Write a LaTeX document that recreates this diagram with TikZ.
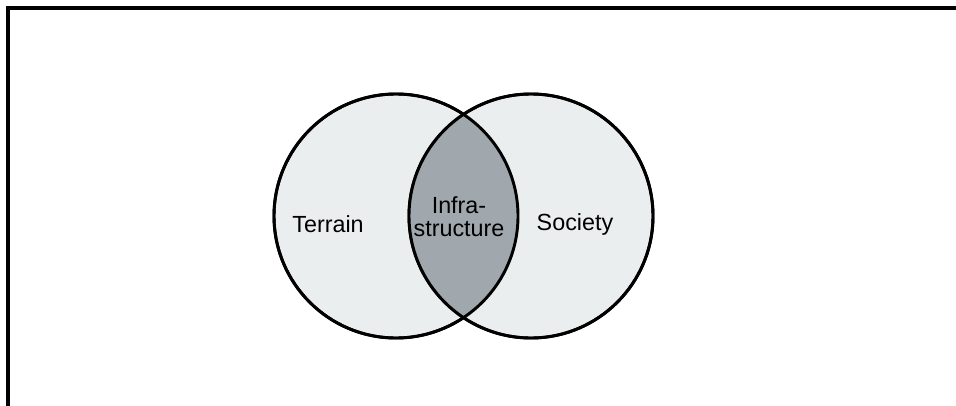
\documentclass[tikz,border=0pt]{standalone}
\usepackage{fontspec}
\setmainfont{Liberation Sans}
\usepackage{xcolor}
\usetikzlibrary{positioning}

\definecolor{zonefill}{HTML}{EBEEEF}
\definecolor{overlapfill}{HTML}{A0A8AD}

\begin{document}
\begin{tikzpicture}[x=0.75pt, y=-0.75pt,
    zone/.style={draw=black, line width=2.2pt, circle, minimum size=183pt, inner sep=0pt, fill=zonefill},
    label/.style={font=\fontsize{17.5}{17.5}\selectfont, align=center, inner sep=0pt}
]
    \useasboundingbox (0,0) rectangle (956,406);
    % frame
    \draw[line width=2.3pt] (956,8) -- (8,8) -- (8,406);

    % the two zones
    \node[zone] (land) at (396,216) {};
    \node[zone] (people) at (531,216) {};

    % overlap
    \begin{scope}
        \clip (land.center) circle (122);
        \fill[overlapfill] (people.center) circle (122);
    \end{scope}
    \draw[line width=2.2pt] (land.center) circle (122);
    \draw[line width=2.2pt] (people.center) circle (122);

    \node[label] (terrain) at (328,224) {Terrain};
    \node[label] (infra) at (459,217) {Infra-\\structure};
    \node[label] (society) at (575,224) {Society};
\end{tikzpicture}
\end{document}
